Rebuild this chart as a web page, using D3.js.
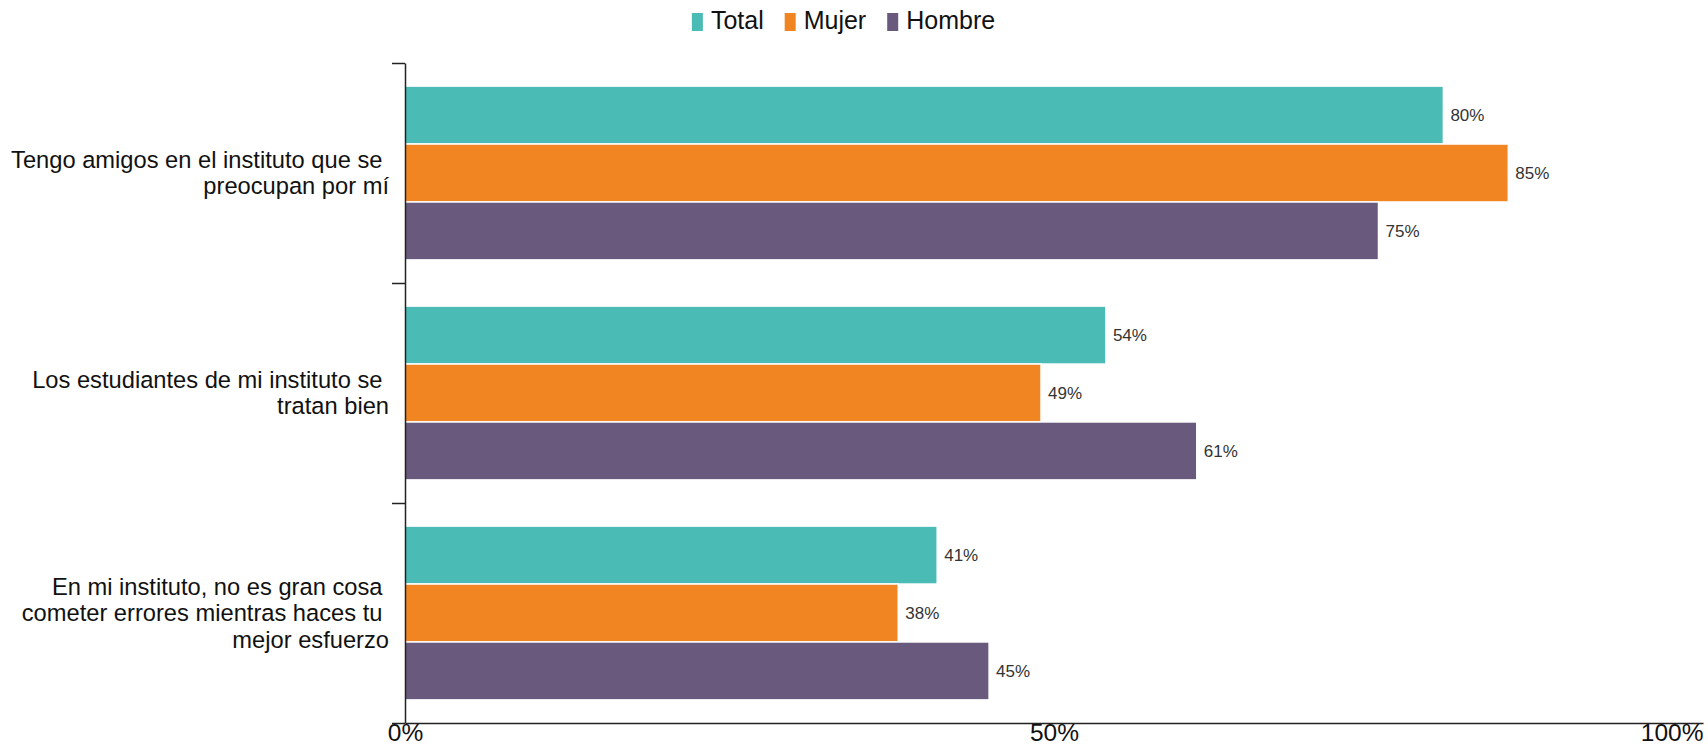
<!DOCTYPE html>
<html><head><meta charset="utf-8">
<script src="https://cdn.jsdelivr.net/npm/d3@7"></script>
<style>
html,body{margin:0;padding:0;background:#fff;}
svg{display:block;font-family:"Liberation Sans",Arial,sans-serif;}
</style></head>
<body>
<svg id="chart" width="1708" height="746"></svg>
<script>
const categories = [
  ["Tengo amigos en el instituto que se ", "preocupan por mí"],
  ["Los estudiantes de mi instituto se ", "tratan bien"],
  ["En mi instituto, no es gran cosa ", "cometer errores mientras haces tu ", "mejor esfuerzo"]
];
const seriesNames = ["Total", "Mujer", "Hombre"];
const seriesColors = ["#4BBBB5", "#F08522", "#69597C"];
const totalValues = [80, 54, 41];
const mujerValues = [85, 49, 38];
const hombreValues = [75, 61, 45];
const xTickValues = [0, 50, 100];
const xTickLabels = ["0%", "50%", "100%"];

(function () {
const seriesValues = [totalValues, mujerValues, hombreValues];
const svg = d3.select("#chart");
const mLeft = 405, mRight = 1703, mTop = 63, mBottom = 723;

const x = d3.scaleLinear().domain([0, 100]).range([mLeft, mRight]);
const catIdx = d3.range(categories.length);
const y0 = d3.scaleBand().domain(catIdx).range([mTop, mBottom]).paddingInner(0.21).paddingOuter(0.105);
const y1 = d3.scaleBand().domain(d3.range(seriesNames.length)).range([0, y0.bandwidth()]).padding(0);
const color = d3.scaleOrdinal().domain(d3.range(seriesNames.length)).range(seriesColors);

// bars
const groups = svg.append("g").selectAll("g").data(catIdx).join("g")
  .attr("transform", i => `translate(0,${y0(i)})`);
groups.selectAll("rect").data(i => seriesValues.map((vals, s) => ({s, v: vals[i]}))).join("rect")
  .attr("x", x(0))
  .attr("y", d => y1(d.s))
  .attr("width", d => x(d.v) - x(0))
  .attr("height", y1.bandwidth())
  .attr("fill", d => color(d.s))
  .attr("stroke", "#fff").attr("stroke-width", 1.5);
groups.selectAll("text.val").data(i => seriesValues.map((vals, s) => ({s, v: vals[i]}))).join("text")
  .attr("class", "val")
  .attr("x", d => x(d.v) + 7)
  .attr("y", d => y1(d.s) + y1.bandwidth() / 2)
  .attr("dy", "0.35em")
  .attr("font-size", 17).attr("fill", "#333")
  .text(d => d.v + "%");

// y axis with ticks at band boundaries
const yIdx = d3.scaleLinear().domain([0, categories.length]).range([mTop, mBottom]);
const yAxis = svg.append("g").attr("transform", `translate(${mLeft},0)`)
  .call(d3.axisLeft(yIdx).tickValues(d3.range(categories.length + 1)).tickFormat("").tickSize(13).tickSizeOuter(0));
yAxis.select(".domain").attr("stroke", "#222").attr("stroke-width", 1.5);
yAxis.selectAll(".tick line").attr("stroke", "#222").attr("stroke-width", 1.5);

// category labels
const lineH = 26.5;
categories.forEach((lines, i) => {
  const cy = y0(i) + y0.bandwidth() / 2;
  const t = svg.append("text").attr("text-anchor", "end").attr("font-size", 23.7).attr("fill", "#111")
    .style("white-space", "pre");
  lines.forEach((ln, k) => {
    t.append("tspan").attr("x", 389)
      .attr("y", cy - (lines.length - 1) * lineH / 2 + k * lineH + 8)
      .text(ln);
  });
});

// x axis
const xAxis = svg.append("g").attr("transform", `translate(0,${mBottom})`)
  .call(d3.axisBottom(x).tickValues(xTickValues).tickFormat((d, i) => xTickLabels[i]).tickSize(0).tickPadding(1).tickSizeOuter(0));
xAxis.select(".domain").attr("stroke", "#222").attr("stroke-width", 1.5);
xAxis.selectAll("text").attr("font-size", 24.5).attr("fill", "#111").attr("font-family", "Liberation Sans, Arial, sans-serif");
xAxis.selectAll(".tick").filter(d => d === 100).select("text").attr("text-anchor", "end");

// legend
const legend = svg.append("g");
let lx = 0;
seriesNames.forEach((name, s) => {
  const g = legend.append("g").attr("transform", `translate(${lx},0)`);
  g.append("rect").attr("x", 0).attr("y", 13).attr("width", 11).attr("height", 18).attr("fill", seriesColors[s]);
  const t = g.append("text").attr("x", 19).attr("y", 29).attr("font-size", 25).attr("fill", "#111").text(name);
  lx += 19 + t.node().getComputedTextLength() + 21;
});
const lw = lx - 21;
legend.attr("transform", `translate(${843.5 - lw / 2},0)`);
})();
</script>
</body></html>
